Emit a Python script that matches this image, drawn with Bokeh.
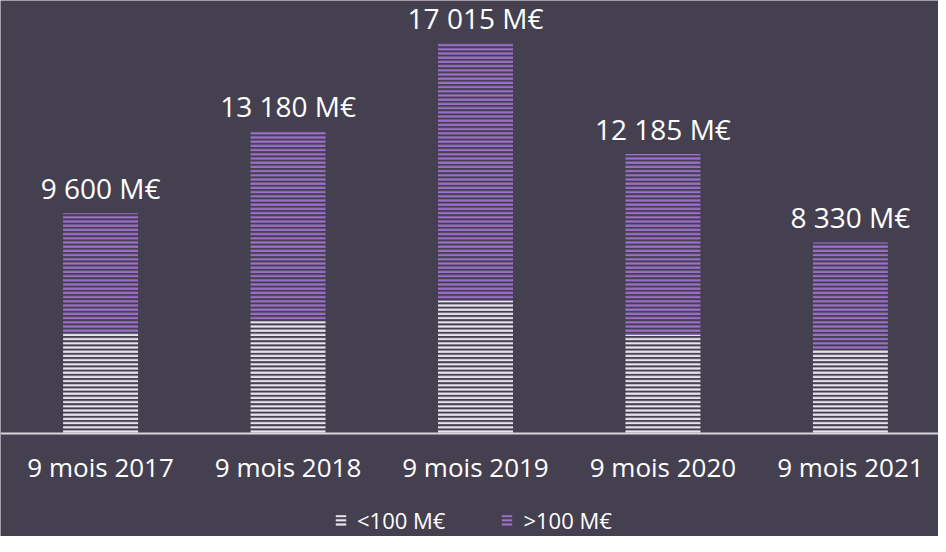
from bokeh.plotting import figure
from bokeh.models import Range1d, FixedTicker, Legend, LegendItem, ColumnDataSource
from bokeh.embed import file_html
from bokeh.resources import INLINE
from bokeh.core.properties import value

categories = ["9 mois 2017", "9 mois 2018", "9 mois 2019", "9 mois 2020", "9 mois 2021"]
below_100 = [4370, 4900, 5800, 4300, 3650]
above_100 = [5230, 8280, 11215, 7885, 4680]
series_names = ["<100 M€", ">100 M€"]

totals = [a + b for a, b in zip(below_100, above_100)]
total_labels = [f"{t:,}".replace(",", " ") + " M€" for t in totals]
xs = list(range(len(categories)))

BG = "#454050"
FONT = "Open Sans"
src = ColumnDataSource(dict(x=xs, lo=below_100, hi=above_100, total=totals, label=total_labels))

p = figure(width=938, height=536, output_backend="svg", toolbar_location=None,
           x_range=Range1d(-0.534, 4.47), y_range=Range1d(-4490, 18876),
           background_fill_color=BG, border_fill_color=BG, outline_line_color=None,
           min_border_left=0, min_border_right=0, min_border_top=0, min_border_bottom=0)

rs = p.vbar_stack(["lo", "hi"], x="x", width=0.4, source=src,
                  fill_alpha=0, line_color=None, hatch_pattern="horizontal_line",
                  hatch_color=["#e8e4ef", "#9c6fcb"], hatch_scale=4.2, hatch_weight=2.2)

p.text(x="x", y="total", text="label", source=src, text_align="center",
       text_baseline="alphabetic", y_offset=-25, text_color="#ffffff",
       text_font=value(FONT), text_font_size="28px")

p.xaxis.fixed_location = 0
p.xaxis.ticker = FixedTicker(ticks=xs)
p.xaxis.major_label_overrides = {i: c for i, c in enumerate(categories)}
p.xaxis.axis_line_color = "#d8d5de"
p.xaxis.axis_line_width = 2
p.xaxis.major_tick_line_color = None
p.xaxis.minor_tick_line_color = None
p.xaxis.major_label_standoff = 9
p.xaxis.major_label_text_color = "#ffffff"
p.xaxis.major_label_text_font = FONT
p.xaxis.major_label_text_font_size = "26px"
p.yaxis.visible = False
p.xgrid.visible = False
p.ygrid.visible = False

legend = Legend(items=[LegendItem(label=series_names[0], renderers=[rs[0]]),
                       LegendItem(label=series_names[1], renderers=[rs[1]])],
                location=(334, 1), orientation="horizontal",
                background_fill_alpha=0, border_line_color=None,
                label_text_color="#ffffff", label_text_font=FONT,
                label_text_font_size="22px", glyph_width=13, glyph_height=14,
                spacing=55, padding=0, margin=0, label_standoff=10)
p.add_layout(legend)

open("out.html", "w").write(file_html(p, INLINE))
